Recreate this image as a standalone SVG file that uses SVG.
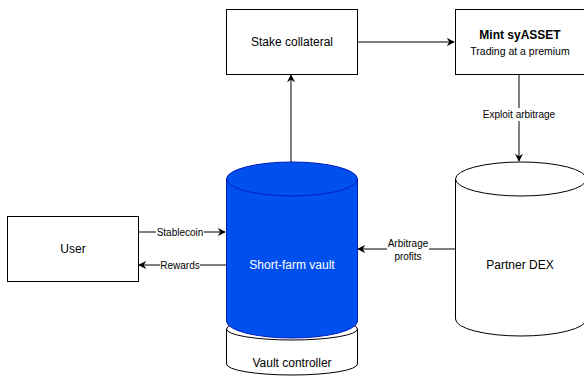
<svg xmlns="http://www.w3.org/2000/svg" width="584" height="376" viewBox="0 0 584 376">
  <defs>
    <marker id="arrow" viewBox="0 0 10 10" refX="9" refY="5" markerWidth="8" markerHeight="8" orient="auto-start-reverse" markerUnits="userSpaceOnUse">
      <path d="M0,0 L10,5 L0,10 L3,5 Z" fill="#000"/>
    </marker>
    <style>
      .box { fill: #fff; stroke: #000; stroke-width: 1; }
      .lbl { font-family: "Liberation Sans", Arial, sans-serif; font-size: 12px; fill: #000; text-anchor: middle; dominant-baseline: central; }
      .sub { font-size: 10.5px; }
      .edge { fill: none; stroke: #000; stroke-width: 1; }
      .elbl { font-family: "Liberation Sans", Arial, sans-serif; font-size: 10px; fill: #000; text-anchor: middle; dominant-baseline: central; }
      .bg { fill: #fff; }
    </style>
  </defs>

  <!-- connectors -->
  <g id="connectors">
    <path class="edge" d="M357,42 H454" marker-end="url(#arrow)"/>
    <path class="edge" d="M519,74 V161" marker-end="url(#arrow)"/>
    <rect class="bg" x="486" y="108" width="66" height="13"/>
    <text class="elbl" x="519" y="114.5">Exploit arbitrage</text>
    <path class="edge" d="M291,162 V75" marker-end="url(#arrow)"/>
    <path class="edge" d="M138,232 H225" marker-end="url(#arrow)"/>
    <rect class="bg" x="156" y="226" width="48" height="12"/>
    <text class="elbl" x="180" y="232">Stablecoin</text>
    <path class="edge" d="M226,265 H139" marker-end="url(#arrow)"/>
    <rect class="bg" x="160" y="259" width="40" height="12"/>
    <text class="elbl" x="180" y="265">Rewards</text>
    <path class="edge" d="M455,249 H358" marker-end="url(#arrow)"/>
    <rect class="bg" x="387" y="236" width="42" height="26"/>
    <text class="elbl" x="408" y="243">Arbitrage</text>
    <text class="elbl" x="408" y="256">profits</text>
  </g>

  <!-- nodes -->
  <g id="stake-collateral">
    <rect class="box" x="226.5" y="9.5" width="131" height="65"/>
    <text class="lbl" x="292" y="42">Stake collateral</text>
  </g>

  <g id="mint-syasset">
    <rect class="box" x="455.5" y="9.5" width="131" height="65"/>
    <text class="lbl" x="520" y="35" font-weight="bold">Mint syASSET</text>
    <text class="lbl sub" x="520" y="51">Trading at a premium</text>
  </g>

  <g id="user">
    <rect class="box" x="7.5" y="216.5" width="131" height="65"/>
    <text class="lbl" x="73" y="249">User</text>
  </g>

  <g id="vault-controller">
    <path class="box" d="M226.5,329 A65.5,11 0 0 1 357.5,329 V364 A65.5,11 0 0 1 226.5,364 Z"/>
    <path class="edge" d="M226.5,329 A65.5,11 0 0 0 357.5,329"/>
    <text class="lbl" x="292" y="363">Vault controller</text>
  </g>

  <g id="short-farm-vault">
    <path d="M226.5,179 A65.5,17 0 0 1 357.5,179 V321 A65.5,17 0 0 1 226.5,321 Z" fill="#0050ef" stroke="#001dbc" stroke-width="1"/>
    <path d="M226.5,179 A65.5,17 0 0 0 357.5,179" fill="none" stroke="#001dbc" stroke-width="1"/>
    <text class="lbl" x="292" y="265" style="fill:#fff">Short-farm vault</text>
  </g>

  <g id="partner-dex">
    <path class="box" d="M455.5,179 A65.5,17 0 0 1 586.5,179 V319 A65.5,17 0 0 1 455.5,319 Z"/>
    <path class="edge" d="M455.5,179 A65.5,17 0 0 0 586.5,179"/>
    <text class="lbl" x="520" y="265">Partner DEX</text>
  </g>
</svg>
